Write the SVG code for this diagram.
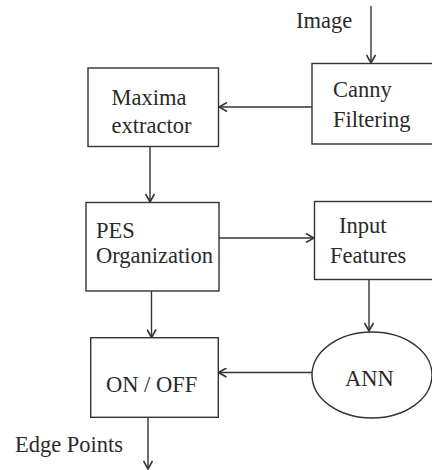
<svg xmlns="http://www.w3.org/2000/svg" width="432" height="470" viewBox="0 0 432 470">
<style>
.box{fill:#fff;stroke:#333;stroke-width:1.4}
.t{font-family:'Liberation Serif','DejaVu Serif',serif;font-size:22.5px;fill:#2a2a2a}
.c{stroke:#333;stroke-width:1.4;fill:none}
</style>
<defs>
<marker id="ah" viewBox="0 0 10 10" refX="9" refY="5" markerWidth="10" markerHeight="10" markerUnits="userSpaceOnUse" orient="auto">
<path d="M1,0.5 L9,5 L1,9.5" fill="none" stroke="#333" stroke-width="1.6"/>
</marker>
</defs>
<rect width="432" height="470" fill="#fff"/>
<g id="connectors">
<line class="c" x1="371" y1="6" x2="371" y2="63" marker-end="url(#ah)"/>
<line class="c" x1="312" y1="107" x2="219" y2="107" marker-end="url(#ah)"/>
<line class="c" x1="150" y1="147" x2="150" y2="202" marker-end="url(#ah)"/>
<line class="c" x1="219" y1="238" x2="314" y2="238" marker-end="url(#ah)"/>
<line class="c" x1="369" y1="279" x2="369" y2="331" marker-end="url(#ah)"/>
<line class="c" x1="312" y1="372.5" x2="218.5" y2="372.5" marker-end="url(#ah)"/>
<line class="c" x1="151.5" y1="291" x2="151.5" y2="337.5" marker-end="url(#ah)"/>
<line class="c" x1="148" y1="417.5" x2="148" y2="469" marker-end="url(#ah)"/>
</g>
<g font-family="Liberation Serif, serif">
<g id="image-label"><text class="t" x="296" y="28">Image</text></g>
<g id="canny">
<rect class="box" x="312" y="63.5" width="130" height="80.5"/>
<text class="t" x="333" y="97">Canny</text>
<text class="t" x="333" y="127">Filtering</text>
</g>
<g id="maxima">
<rect class="box" x="88" y="68" width="130.5" height="78.5"/>
<text class="t" x="111.5" y="105">Maxima</text>
<text class="t" x="111.5" y="133">extractor</text>
</g>
<g id="pes">
<rect class="box" x="86" y="202.5" width="133" height="88.5"/>
<text class="t" x="96" y="237.5">PES</text>
<text class="t" x="96" y="263.3">Organization</text>
</g>
<g id="input">
<rect class="box" x="314.5" y="201.5" width="130" height="78"/>
<text class="t" x="339" y="233">Input</text>
<text class="t" x="330" y="262.7">Features</text>
</g>
<g id="ann">
<ellipse class="box" cx="372" cy="375" rx="60" ry="43"/>
<text class="t" x="345" y="386">ANN</text>
</g>
<g id="onoff">
<rect class="box" x="90.7" y="337.7" width="127.6" height="79.6"/>
<text class="t" x="106" y="391.7">ON / OFF</text>
</g>
<g id="edge-label"><text class="t" x="15" y="451.7">Edge Points</text></g>
</g>
</svg>
